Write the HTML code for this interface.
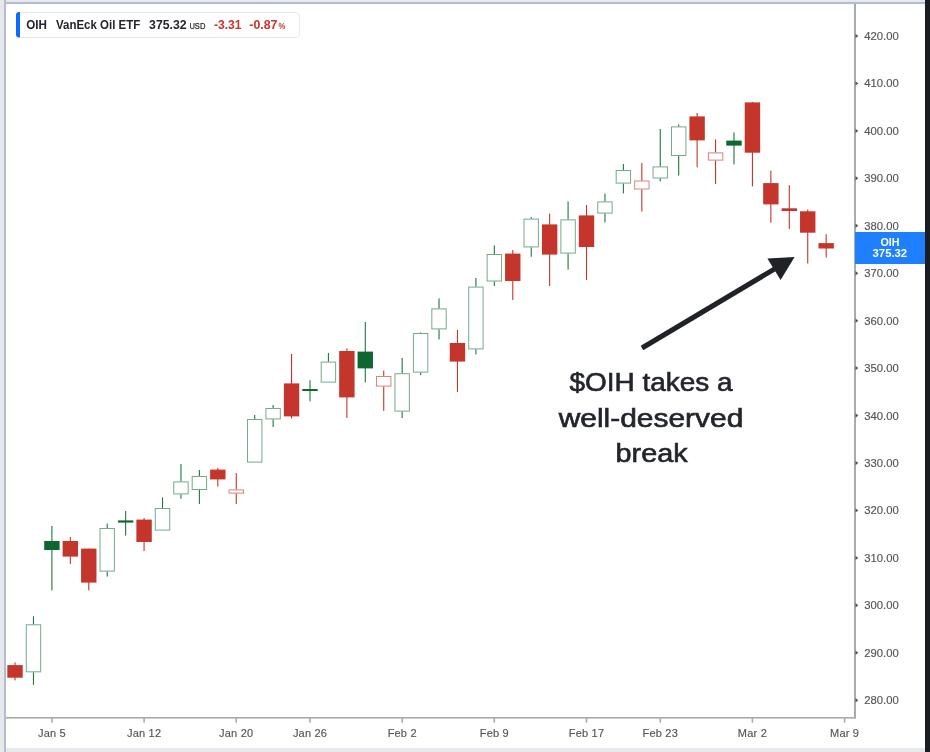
<!DOCTYPE html>
<html><head><meta charset="utf-8"><title>OIH chart</title>
<style>
html,body{margin:0;padding:0;background:#e7e8eb;}
body{width:930px;height:752px;overflow:hidden;position:relative;font-family:"Liberation Sans",sans-serif;}
#bg{position:absolute;left:0;top:0;width:930px;height:752px;background:#e7e8eb;}
#vline{position:absolute;left:4px;top:0;width:2px;height:752px;background:#b4bdd0;}
#hline{position:absolute;left:4px;top:2px;width:921px;height:2px;background:#b4bdd0;}
#white{position:absolute;left:6px;top:4px;width:919px;height:744px;background:#fff;}
#dark{position:absolute;left:925px;top:0;width:5px;height:752px;background:#1a1d21;}
svg{position:absolute;left:0;top:0;}
svg text{font-family:"Liberation Sans",sans-serif;}
</style></head><body>
<div id="bg"></div><div id="vline"></div><div id="hline"></div><div id="white"></div><div id="dark"></div>
<svg width="930" height="752" viewBox="0 0 930 752">
<rect x="14.48" y="662.3" width="1.1" height="18.1" fill="#c4362c"/>
<rect x="7.33" y="665.1" width="15.4" height="12.6" fill="#c4362c"/>
<rect x="32.92" y="616.3" width="1.1" height="8.0" fill="#1f7744"/>
<rect x="32.92" y="672.3" width="1.1" height="12.6" fill="#1f7744"/>
<rect x="26.27" y="624.8" width="14.4" height="47.0" fill="#fff" stroke="#1f7744" stroke-width="1" stroke-opacity="0.62"/>
<rect x="51.35" y="526.0" width="1.1" height="64.4" fill="#1f7744"/>
<rect x="44.20" y="541.0" width="15.4" height="9.0" fill="#0e6630"/>
<rect x="69.78" y="537.0" width="1.1" height="27.0" fill="#c4362c"/>
<rect x="62.63" y="541.0" width="15.4" height="15.6" fill="#c4362c"/>
<rect x="88.22" y="548.6" width="1.1" height="41.8" fill="#c4362c"/>
<rect x="81.07" y="548.6" width="15.4" height="34.0" fill="#c4362c"/>
<rect x="106.65" y="523.6" width="1.1" height="4.4" fill="#1f7744"/>
<rect x="106.65" y="571.6" width="1.1" height="5.0" fill="#1f7744"/>
<rect x="100.00" y="528.5" width="14.4" height="42.6" fill="#fff" stroke="#1f7744" stroke-width="1" stroke-opacity="0.62"/>
<rect x="125.09" y="511.0" width="1.1" height="24.6" fill="#1f7744"/>
<rect x="117.94" y="520.4" width="15.4" height="2.2" fill="#0e6630"/>
<rect x="143.52" y="518.0" width="1.1" height="33.0" fill="#c4362c"/>
<rect x="136.38" y="519.6" width="15.4" height="22.4" fill="#c4362c"/>
<rect x="161.96" y="497.4" width="1.1" height="10.6" fill="#1f7744"/>
<rect x="155.31" y="508.5" width="14.4" height="21.6" fill="#fff" stroke="#1f7744" stroke-width="1" stroke-opacity="0.62"/>
<rect x="180.39" y="464.0" width="1.1" height="17.4" fill="#1f7744"/>
<rect x="180.39" y="494.4" width="1.1" height="4.2" fill="#1f7744"/>
<rect x="173.75" y="481.9" width="14.4" height="12.0" fill="#fff" stroke="#1f7744" stroke-width="1" stroke-opacity="0.62"/>
<rect x="198.83" y="470.0" width="1.1" height="6.0" fill="#1f7744"/>
<rect x="198.83" y="490.0" width="1.1" height="14.0" fill="#1f7744"/>
<rect x="192.18" y="476.5" width="14.4" height="13.0" fill="#fff" stroke="#1f7744" stroke-width="1" stroke-opacity="0.62"/>
<rect x="217.26" y="467.8" width="1.1" height="18.8" fill="#c4362c"/>
<rect x="210.12" y="469.6" width="15.4" height="9.8" fill="#c4362c"/>
<rect x="235.70" y="473.0" width="1.1" height="16.4" fill="#c4362c"/>
<rect x="235.70" y="493.6" width="1.1" height="10.4" fill="#c4362c"/>
<rect x="229.05" y="489.9" width="14.4" height="3.2" fill="#fff" stroke="#c4362c" stroke-width="1" stroke-opacity="0.62"/>
<rect x="254.13" y="415.0" width="1.1" height="4.0" fill="#1f7744"/>
<rect x="247.49" y="419.5" width="14.4" height="42.6" fill="#fff" stroke="#1f7744" stroke-width="1" stroke-opacity="0.62"/>
<rect x="272.57" y="405.0" width="1.1" height="3.0" fill="#1f7744"/>
<rect x="272.57" y="419.4" width="1.1" height="7.6" fill="#1f7744"/>
<rect x="265.92" y="408.5" width="14.4" height="10.4" fill="#fff" stroke="#1f7744" stroke-width="1" stroke-opacity="0.62"/>
<rect x="291.00" y="354.0" width="1.1" height="64.5" fill="#c4362c"/>
<rect x="283.85" y="383.4" width="15.4" height="33.0" fill="#c4362c"/>
<rect x="309.44" y="380.2" width="1.1" height="21.1" fill="#1f7744"/>
<rect x="302.29" y="389.0" width="15.4" height="2.0" fill="#0e6630"/>
<rect x="327.87" y="353.0" width="1.1" height="8.6" fill="#1f7744"/>
<rect x="321.22" y="362.1" width="14.4" height="20.0" fill="#fff" stroke="#1f7744" stroke-width="1" stroke-opacity="0.62"/>
<rect x="346.31" y="348.4" width="1.1" height="69.6" fill="#c4362c"/>
<rect x="339.16" y="351.0" width="15.4" height="46.4" fill="#c4362c"/>
<rect x="364.74" y="322.0" width="1.1" height="60.4" fill="#1f7744"/>
<rect x="357.59" y="351.6" width="15.4" height="16.8" fill="#0e6630"/>
<rect x="383.18" y="370.6" width="1.1" height="5.4" fill="#c4362c"/>
<rect x="383.18" y="386.6" width="1.1" height="24.2" fill="#c4362c"/>
<rect x="376.53" y="376.5" width="14.4" height="9.6" fill="#fff" stroke="#c4362c" stroke-width="1" stroke-opacity="0.62"/>
<rect x="401.61" y="358.0" width="1.1" height="15.2" fill="#1f7744"/>
<rect x="401.61" y="411.6" width="1.1" height="6.4" fill="#1f7744"/>
<rect x="394.96" y="373.7" width="14.4" height="37.4" fill="#fff" stroke="#1f7744" stroke-width="1" stroke-opacity="0.62"/>
<rect x="420.05" y="332.4" width="1.1" height="0.6" fill="#1f7744"/>
<rect x="420.05" y="372.6" width="1.1" height="2.4" fill="#1f7744"/>
<rect x="413.40" y="333.5" width="14.4" height="38.6" fill="#fff" stroke="#1f7744" stroke-width="1" stroke-opacity="0.62"/>
<rect x="438.48" y="298.4" width="1.1" height="10.0" fill="#1f7744"/>
<rect x="438.48" y="329.4" width="1.1" height="10.0" fill="#1f7744"/>
<rect x="431.83" y="308.9" width="14.4" height="20.0" fill="#fff" stroke="#1f7744" stroke-width="1" stroke-opacity="0.62"/>
<rect x="456.92" y="330.0" width="1.1" height="62.0" fill="#c4362c"/>
<rect x="449.77" y="343.0" width="15.4" height="18.6" fill="#c4362c"/>
<rect x="475.35" y="278.0" width="1.1" height="8.6" fill="#1f7744"/>
<rect x="475.35" y="349.4" width="1.1" height="5.0" fill="#1f7744"/>
<rect x="468.70" y="287.1" width="14.4" height="61.8" fill="#fff" stroke="#1f7744" stroke-width="1" stroke-opacity="0.62"/>
<rect x="493.79" y="245.4" width="1.1" height="8.6" fill="#1f7744"/>
<rect x="493.79" y="281.5" width="1.1" height="4.5" fill="#1f7744"/>
<rect x="487.14" y="254.5" width="14.4" height="26.5" fill="#fff" stroke="#1f7744" stroke-width="1" stroke-opacity="0.62"/>
<rect x="512.23" y="250.0" width="1.1" height="50.0" fill="#c4362c"/>
<rect x="505.07" y="253.6" width="15.4" height="27.4" fill="#c4362c"/>
<rect x="530.66" y="217.0" width="1.1" height="1.6" fill="#1f7744"/>
<rect x="530.66" y="247.4" width="1.1" height="9.4" fill="#1f7744"/>
<rect x="524.01" y="219.1" width="14.4" height="27.8" fill="#fff" stroke="#1f7744" stroke-width="1" stroke-opacity="0.62"/>
<rect x="549.10" y="213.6" width="1.1" height="72.4" fill="#c4362c"/>
<rect x="541.94" y="224.4" width="15.4" height="30.2" fill="#c4362c"/>
<rect x="567.53" y="201.4" width="1.1" height="18.0" fill="#1f7744"/>
<rect x="567.53" y="253.6" width="1.1" height="16.0" fill="#1f7744"/>
<rect x="560.88" y="219.9" width="14.4" height="33.2" fill="#fff" stroke="#1f7744" stroke-width="1" stroke-opacity="0.62"/>
<rect x="585.97" y="205.0" width="1.1" height="75.0" fill="#c4362c"/>
<rect x="578.81" y="215.4" width="15.4" height="31.6" fill="#c4362c"/>
<rect x="604.40" y="193.6" width="1.1" height="7.8" fill="#1f7744"/>
<rect x="604.40" y="213.6" width="1.1" height="8.8" fill="#1f7744"/>
<rect x="597.75" y="201.9" width="14.4" height="11.2" fill="#fff" stroke="#1f7744" stroke-width="1" stroke-opacity="0.62"/>
<rect x="622.84" y="164.0" width="1.1" height="6.0" fill="#1f7744"/>
<rect x="622.84" y="183.6" width="1.1" height="9.8" fill="#1f7744"/>
<rect x="616.18" y="170.5" width="14.4" height="12.6" fill="#fff" stroke="#1f7744" stroke-width="1" stroke-opacity="0.62"/>
<rect x="641.27" y="163.0" width="1.1" height="17.5" fill="#c4362c"/>
<rect x="641.27" y="189.5" width="1.1" height="22.1" fill="#c4362c"/>
<rect x="634.62" y="181.0" width="14.4" height="8.0" fill="#fff" stroke="#c4362c" stroke-width="1" stroke-opacity="0.62"/>
<rect x="659.70" y="129.0" width="1.1" height="37.4" fill="#1f7744"/>
<rect x="659.70" y="178.5" width="1.1" height="2.9" fill="#1f7744"/>
<rect x="653.05" y="166.9" width="14.4" height="11.1" fill="#fff" stroke="#1f7744" stroke-width="1" stroke-opacity="0.62"/>
<rect x="678.14" y="124.4" width="1.1" height="2.0" fill="#1f7744"/>
<rect x="678.14" y="156.0" width="1.1" height="19.6" fill="#1f7744"/>
<rect x="671.49" y="126.9" width="14.4" height="28.6" fill="#fff" stroke="#1f7744" stroke-width="1" stroke-opacity="0.62"/>
<rect x="696.57" y="113.0" width="1.1" height="54.4" fill="#c4362c"/>
<rect x="689.42" y="116.4" width="15.4" height="24.0" fill="#c4362c"/>
<rect x="715.01" y="139.4" width="1.1" height="13.0" fill="#c4362c"/>
<rect x="715.01" y="160.6" width="1.1" height="23.4" fill="#c4362c"/>
<rect x="708.36" y="152.9" width="14.4" height="7.2" fill="#fff" stroke="#c4362c" stroke-width="1" stroke-opacity="0.62"/>
<rect x="733.44" y="132.4" width="1.1" height="32.0" fill="#1f7744"/>
<rect x="726.29" y="140.6" width="15.4" height="5.0" fill="#0e6630"/>
<rect x="751.88" y="102.0" width="1.1" height="84.4" fill="#c4362c"/>
<rect x="744.73" y="102.4" width="15.4" height="50.3" fill="#c4362c"/>
<rect x="770.31" y="170.7" width="1.1" height="52.0" fill="#c4362c"/>
<rect x="763.16" y="183.1" width="15.4" height="21.3" fill="#c4362c"/>
<rect x="788.75" y="185.2" width="1.1" height="43.8" fill="#c4362c"/>
<rect x="781.60" y="208.3" width="15.4" height="2.7" fill="#c4362c"/>
<rect x="807.18" y="209.5" width="1.1" height="54.0" fill="#c4362c"/>
<rect x="800.03" y="211.3" width="15.4" height="21.4" fill="#c4362c"/>
<rect x="825.62" y="234.2" width="1.1" height="23.3" fill="#c4362c"/>
<rect x="818.47" y="243.1" width="15.4" height="5.4" fill="#c4362c"/>
<rect x="854" y="4" width="2" height="714.5" fill="#ababab"/>
<rect x="6" y="717" width="850" height="1.6" fill="#ababab"/>
<path d="M855.5 33.8 L858.3 36.0 L855.5 38.2 Z" fill="#555"/>
<text x="864.3" y="40.0" font-size="11" fill="#555" stroke="#555" stroke-width="0.15" textLength="34.5" lengthAdjust="spacingAndGlyphs">420.00</text>
<path d="M855.5 81.2 L858.3 83.4 L855.5 85.6 Z" fill="#555"/>
<text x="864.3" y="87.4" font-size="11" fill="#555" stroke="#555" stroke-width="0.15" textLength="34.5" lengthAdjust="spacingAndGlyphs">410.00</text>
<path d="M855.5 128.7 L858.3 130.9 L855.5 133.1 Z" fill="#555"/>
<text x="864.3" y="134.8" font-size="11" fill="#555" stroke="#555" stroke-width="0.15" textLength="34.5" lengthAdjust="spacingAndGlyphs">400.00</text>
<path d="M855.5 176.1 L858.3 178.3 L855.5 180.5 Z" fill="#555"/>
<text x="864.3" y="182.3" font-size="11" fill="#555" stroke="#555" stroke-width="0.15" textLength="34.5" lengthAdjust="spacingAndGlyphs">390.00</text>
<path d="M855.5 223.6 L858.3 225.8 L855.5 228.0 Z" fill="#555"/>
<text x="864.3" y="229.7" font-size="11" fill="#555" stroke="#555" stroke-width="0.15" textLength="34.5" lengthAdjust="spacingAndGlyphs">380.00</text>
<path d="M855.5 271.0 L858.3 273.2 L855.5 275.4 Z" fill="#555"/>
<text x="864.3" y="277.2" font-size="11" fill="#555" stroke="#555" stroke-width="0.15" textLength="34.5" lengthAdjust="spacingAndGlyphs">370.00</text>
<path d="M855.5 318.5 L858.3 320.7 L855.5 322.9 Z" fill="#555"/>
<text x="864.3" y="324.6" font-size="11" fill="#555" stroke="#555" stroke-width="0.15" textLength="34.5" lengthAdjust="spacingAndGlyphs">360.00</text>
<path d="M855.5 365.9 L858.3 368.1 L855.5 370.3 Z" fill="#555"/>
<text x="864.3" y="372.1" font-size="11" fill="#555" stroke="#555" stroke-width="0.15" textLength="34.5" lengthAdjust="spacingAndGlyphs">350.00</text>
<path d="M855.5 413.3 L858.3 415.5 L855.5 417.7 Z" fill="#555"/>
<text x="864.3" y="419.5" font-size="11" fill="#555" stroke="#555" stroke-width="0.15" textLength="34.5" lengthAdjust="spacingAndGlyphs">340.00</text>
<path d="M855.5 460.8 L858.3 463.0 L855.5 465.2 Z" fill="#555"/>
<text x="864.3" y="466.9" font-size="11" fill="#555" stroke="#555" stroke-width="0.15" textLength="34.5" lengthAdjust="spacingAndGlyphs">330.00</text>
<path d="M855.5 508.2 L858.3 510.4 L855.5 512.6 Z" fill="#555"/>
<text x="864.3" y="514.4" font-size="11" fill="#555" stroke="#555" stroke-width="0.15" textLength="34.5" lengthAdjust="spacingAndGlyphs">320.00</text>
<path d="M855.5 555.7 L858.3 557.9 L855.5 560.1 Z" fill="#555"/>
<text x="864.3" y="561.8" font-size="11" fill="#555" stroke="#555" stroke-width="0.15" textLength="34.5" lengthAdjust="spacingAndGlyphs">310.00</text>
<path d="M855.5 603.1 L858.3 605.3 L855.5 607.5 Z" fill="#555"/>
<text x="864.3" y="609.3" font-size="11" fill="#555" stroke="#555" stroke-width="0.15" textLength="34.5" lengthAdjust="spacingAndGlyphs">300.00</text>
<path d="M855.5 650.6 L858.3 652.8 L855.5 655.0 Z" fill="#555"/>
<text x="864.3" y="656.7" font-size="11" fill="#555" stroke="#555" stroke-width="0.15" textLength="34.5" lengthAdjust="spacingAndGlyphs">290.00</text>
<path d="M855.5 698.0 L858.3 700.2 L855.5 702.4 Z" fill="#555"/>
<text x="864.3" y="704.2" font-size="11" fill="#555" stroke="#555" stroke-width="0.15" textLength="34.5" lengthAdjust="spacingAndGlyphs">280.00</text>
<rect x="51.1" y="718" width="1.6" height="4.7" fill="#ababab"/>
<text x="51.9" y="737" font-size="11" fill="#555" text-anchor="middle" letter-spacing="0.2" stroke="#555" stroke-width="0.15">Jan 5</text>
<rect x="143.3" y="718" width="1.6" height="4.7" fill="#ababab"/>
<text x="144.1" y="737" font-size="11" fill="#555" text-anchor="middle" letter-spacing="0.2" stroke="#555" stroke-width="0.15">Jan 12</text>
<rect x="235.4" y="718" width="1.6" height="4.7" fill="#ababab"/>
<text x="236.2" y="737" font-size="11" fill="#555" text-anchor="middle" letter-spacing="0.2" stroke="#555" stroke-width="0.15">Jan 20</text>
<rect x="309.2" y="718" width="1.6" height="4.7" fill="#ababab"/>
<text x="310.0" y="737" font-size="11" fill="#555" text-anchor="middle" letter-spacing="0.2" stroke="#555" stroke-width="0.15">Jan 26</text>
<rect x="401.4" y="718" width="1.6" height="4.7" fill="#ababab"/>
<text x="402.2" y="737" font-size="11" fill="#555" text-anchor="middle" letter-spacing="0.2" stroke="#555" stroke-width="0.15">Feb 2</text>
<rect x="493.5" y="718" width="1.6" height="4.7" fill="#ababab"/>
<text x="494.3" y="737" font-size="11" fill="#555" text-anchor="middle" letter-spacing="0.2" stroke="#555" stroke-width="0.15">Feb 9</text>
<rect x="585.7" y="718" width="1.6" height="4.7" fill="#ababab"/>
<text x="586.5" y="737" font-size="11" fill="#555" text-anchor="middle" letter-spacing="0.2" stroke="#555" stroke-width="0.15">Feb 17</text>
<rect x="659.5" y="718" width="1.6" height="4.7" fill="#ababab"/>
<text x="660.3" y="737" font-size="11" fill="#555" text-anchor="middle" letter-spacing="0.2" stroke="#555" stroke-width="0.15">Feb 23</text>
<rect x="751.6" y="718" width="1.6" height="4.7" fill="#ababab"/>
<text x="752.4" y="737" font-size="11" fill="#555" text-anchor="middle" letter-spacing="0.2" stroke="#555" stroke-width="0.15">Mar 2</text>
<rect x="843.8" y="718" width="1.6" height="4.7" fill="#ababab"/>
<text x="844.6" y="737" font-size="11" fill="#555" text-anchor="middle" letter-spacing="0.2" stroke="#555" stroke-width="0.15">Mar 9</text>
<rect x="855" y="232" width="70" height="32" fill="#1f80ff"/>
<text x="880.4" y="245.8" font-size="10.5" font-weight="700" fill="#fff" textLength="19.1" lengthAdjust="spacingAndGlyphs">OIH</text>
<text x="872.6" y="256.8" font-size="10.5" font-weight="700" fill="#fff" textLength="34.5" lengthAdjust="spacingAndGlyphs">375.32</text>
<line x1="642" y1="348" x2="776" y2="268.1" stroke="#1f2227" stroke-width="5"/>
<path d="M794.6 257 L767.4 258.6 L780.6 280 Z" fill="#1f2227"/>
<text x="569.4" y="390.7" font-size="25.5" fill="#22252b" stroke="#22252b" stroke-width="0.6" textLength="163.2" lengthAdjust="spacingAndGlyphs">$OIH takes a</text>
<text x="558.7" y="426.6" font-size="25.5" fill="#22252b" stroke="#22252b" stroke-width="0.6" textLength="184.6" lengthAdjust="spacingAndGlyphs">well-deserved</text>
<text x="615.6" y="462.3" font-size="25.5" fill="#22252b" stroke="#22252b" stroke-width="0.6" textLength="72.1" lengthAdjust="spacingAndGlyphs">break</text>
<rect x="16.5" y="12.5" width="283" height="25" rx="3.5" fill="#fff" stroke="#e7e8ea" stroke-width="1"/>
<path d="M20 12 H19 a3 3 0 0 0 -3 3 V34.5 a3 3 0 0 0 3 3 H20 Z" fill="#0a6cff"/>
<text x="26.3" y="29" font-size="12.3" font-weight="700" fill="#22252b" stroke="#22252b" stroke-width="0" textLength="20.7" lengthAdjust="spacingAndGlyphs">OIH</text>
<text x="56" y="29" font-size="12.3" font-weight="700" fill="#22252b" stroke="#22252b" stroke-width="0" textLength="84.2" lengthAdjust="spacingAndGlyphs">VanEck Oil ETF</text>
<text x="149.1" y="29" font-size="12.3" font-weight="700" fill="#22252b" stroke="#22252b" stroke-width="0" textLength="37.5" lengthAdjust="spacingAndGlyphs">375.32</text>
<text x="189.4" y="29" font-size="8.5" font-weight="400" fill="#22252b" stroke="#22252b" stroke-width="0.2" textLength="16" lengthAdjust="spacingAndGlyphs">USD</text>
<text x="214" y="29" font-size="12.3" font-weight="700" fill="#c9332b" stroke="#c9332b" stroke-width="0" textLength="27.5" lengthAdjust="spacingAndGlyphs">-3.31</text>
<text x="249.3" y="29" font-size="12.3" font-weight="700" fill="#c9332b" stroke="#c9332b" stroke-width="0" textLength="28.2" lengthAdjust="spacingAndGlyphs">-0.87</text>
<text x="278.4" y="29" font-size="8.5" font-weight="700" fill="#c9332b" stroke="#c9332b" stroke-width="0" textLength="6.8" lengthAdjust="spacingAndGlyphs">%</text>
</svg>
</body></html>
